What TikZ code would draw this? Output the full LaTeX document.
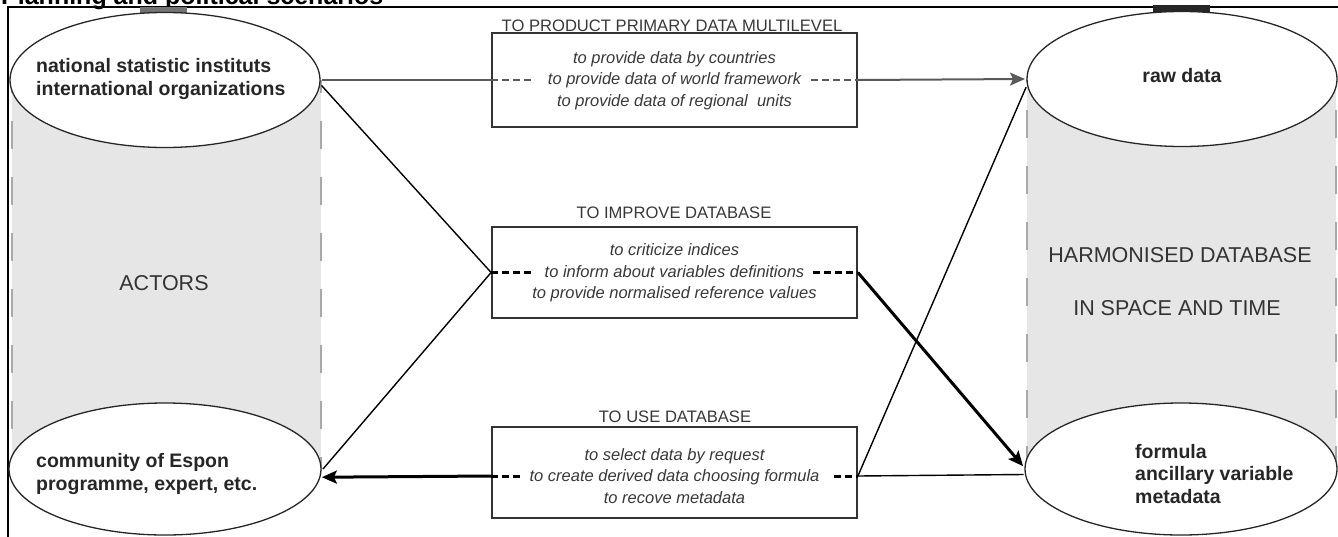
\documentclass[tikz,border=0pt]{standalone}
\usepackage{fontspec}
\setmainfont{Liberation Sans}
\usetikzlibrary{shapes.geometric,arrows.meta}
\definecolor{cylgray}{HTML}{E6E6E6}
\definecolor{sidegray}{HTML}{A8A8A8}
\definecolor{lineg}{HTML}{5A5A5A}
\begin{document}
\begin{tikzpicture}[x=1pt,y=-1pt,
  cylside/.style={draw=sidegray, line width=1.2pt, dash pattern=on 28pt off 28pt},
  capnode/.style={ellipse, draw=black!85, line width=1.3pt, fill=white, inner sep=0pt, outer sep=2pt},
  lbl/.style={font=\fontsize{19.5}{22.5}\selectfont\bfseries, text=black!85, align=left, inner sep=0pt},
  boxnode/.style={rectangle, draw=black!80, line width=1.8pt, minimum width=365pt, inner sep=0pt},
  boxtxt/.style={font=\fontsize{16.5}{21.5}\selectfont\itshape, text=black!78, align=center, inner sep=0pt},
  boxtitle/.style={font=\fontsize{16.6}{16.6}\selectfont, text=black!78, anchor=base, inner sep=0pt},
  bigcap/.style={font=\fontsize{21.5}{21.5}\selectfont, text=black!80, inner sep=0pt},
  thinline/.style={line width=1.4pt, draw=black},
  thickline/.style={line width=3pt, draw=black},
  greyline/.style={line width=2pt, draw=lineg},
  arr/.style={-{Stealth[length=15pt,width=13pt,inset=3pt]}},
  dsh/.style={dash pattern=on 7pt off 4pt}
]
\useasboundingbox (0,0) rectangle (1338,536);
\clip (0,0) rectangle (1338,536);

% title (cut off at top, as in the reference)
\node[font=\fontsize{25}{25}\selectfont\bfseries, anchor=base west, inner sep=0pt, text=black] (title) at (1,4) {Planning and political scenarios};

% frame
\draw[line width=2pt, black] (7.5,540) -- (7.5,7) -- (1345,7);

% small marks at top of cylinders
\fill[black!55] (140,7) rectangle (187,13);
\fill[black!85] (1153,5) rectangle (1210,13);

% cylinder bodies
\fill[cylgray] (12,80) rectangle (321,469);
\draw[cylside, dash phase=15pt] (12,80) -- (12,469);
\draw[cylside, dash phase=15pt] (321,80) -- (321,469);
\fill[cylgray] (1027,79) rectangle (1336,469);
\draw[cylside, dash phase=25pt] (1027,79) -- (1027,469);
\draw[cylside, dash phase=25pt] (1336,79) -- (1336,469);

% ellipses
\node[capnode, minimum width=310pt, minimum height=135pt] (lt) at (165,80) {};
\node[capnode, minimum width=312pt, minimum height=132pt] (lb) at (165,469) {};
\node[capnode, minimum width=310pt, minimum height=135pt] (rt) at (1182,79) {};
\node[capnode, minimum width=312pt, minimum height=132pt] (rb) at (1181,469) {};

% labels
\node[lbl, anchor=west] (ltl) at (36,79) {national statistic instituts\\international organizations};
\node[lbl, anchor=west] (lbl1) at (36,474) {community of Espon\\programme, expert, etc.};
\node[lbl] (rtl) at (1182,76) {raw data};
\node[lbl, anchor=west] (rbl) at (1135,474) {formula\\ancillary variable\\metadata};
\node[bigcap] (actors) at (164,283) {ACTORS};
\node[bigcap] (harm1) at (1180,255) {HARMONISED DATABASE};
\node[bigcap] (harm2) at (1177,308) {IN SPACE AND TIME};

% boxes
\node[boxnode, minimum height=94pt] (b1) at (674.5,80) {};
\node[boxnode, minimum height=91pt] (b2) at (674.5,272.5) {};
\node[boxnode, minimum height=91pt] (b3) at (674.5,472.5) {};
\node[boxtxt] (t1) at (674.5,80.5) {to provide data by countries\\to provide data of world framework\\to provide data of regional\ \ units};
\node[boxtxt] (t2) at (674.5,273) {to criticize indices\\to inform about variables definitions\\to provide normalised reference values};
\node[boxtxt] (t3) at (674.5,476) {to select data by request\\to create derived data choosing formula\\to recove metadata};
\node[boxtitle] (h1) at (672,31.5) {TO PRODUCT PRIMARY DATA MULTILEVEL};
\node[boxtitle] (h2) at (674,218) {TO IMPROVE DATABASE};
\node[boxtitle] (h3) at (675,422) {TO USE DATABASE};

% connectors: box 1
\draw[greyline] (lt.east) -- (b1.west);
\draw[greyline, dsh] (b1.west) -- ++(42,0);
\draw[greyline, dsh] ([xshift=-47pt]b1.east) -- (b1.east);
\draw[greyline, arr] (b1.east) -- (rt.west);

% connectors: box 2
\draw[thinline] (lt.-2.5) -- (b2.west);
\draw[thinline] (b2.west) -- (lb.east);
\draw[thickline, dsh] (b2.west) -- ++(43,0);
\draw[thickline, dsh] ([xshift=-45pt]b2.east) -- (b2.east);
\draw[thickline, arr] (b2.east) -- (rb.179);

% connectors: box 3
\draw[thickline, dsh] ([yshift=-3.5pt]b3.west) -- ++(31,0);
\draw[thickline, dsh] ([xshift=-24pt,yshift=-3.5pt]b3.east) -- ([yshift=-3.5pt]b3.east);
\draw[thickline, arr] ([yshift=-3.5pt]b3.west) -- (lb.-3);
\draw[thinline] ([yshift=-3.5pt]b3.east) -- (rt.183.5);
\draw[thinline] ([yshift=-3.5pt]b3.east) -- (rb.182);
\end{tikzpicture}
\end{document}
